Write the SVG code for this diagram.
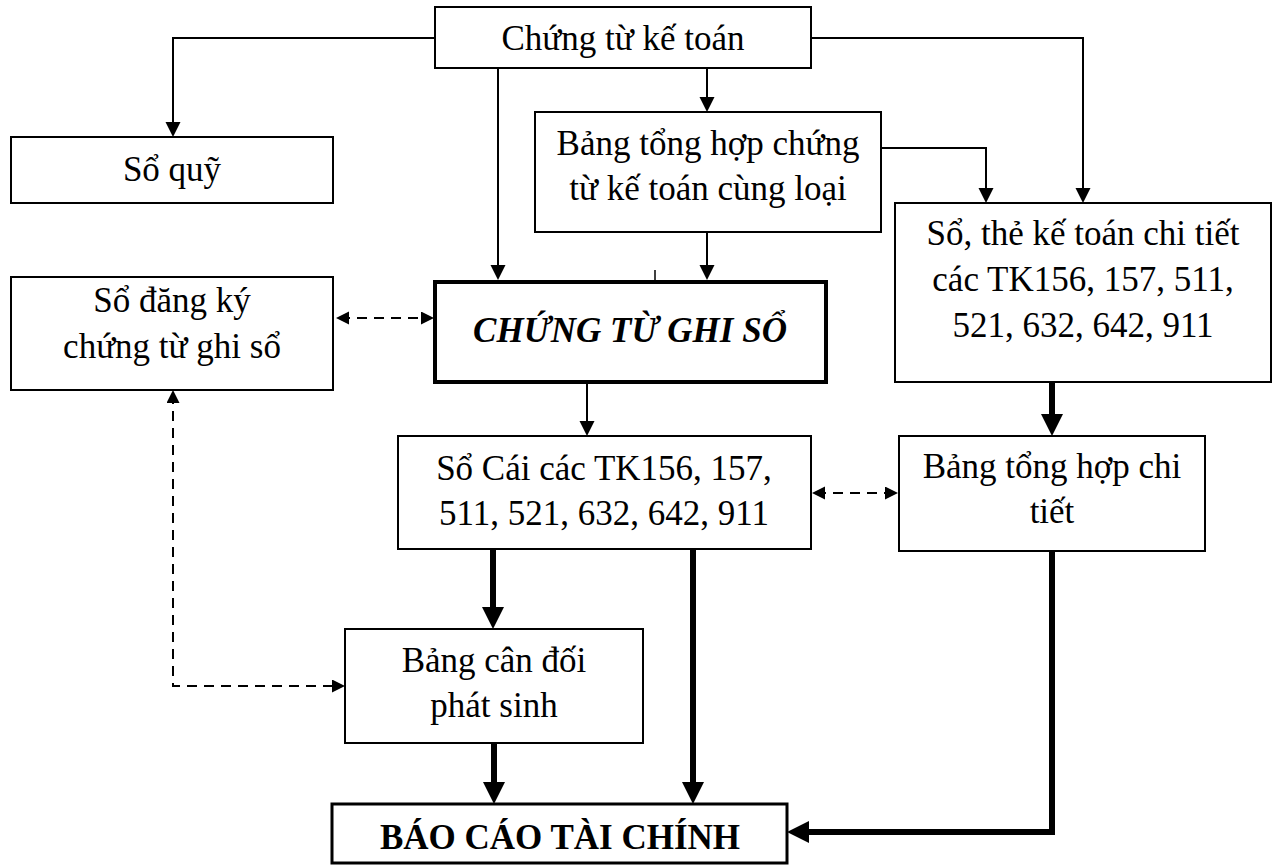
<svg xmlns="http://www.w3.org/2000/svg" width="1280" height="865" viewBox="0 0 1280 865">
<style>
  .box{fill:#fff;stroke:#000;stroke-width:2}
  .b4{stroke-width:4}
  .b3{stroke-width:3}
  text{font-family:"Liberation Serif","Times New Roman",serif;font-size:35px;fill:#000;text-anchor:middle}
  .bi{font-weight:bold;font-style:italic}
  .b{font-weight:bold}
  .thin{fill:none;stroke:#000;stroke-width:2}
  .thick{fill:none;stroke:#000;stroke-width:6}
  .dash{fill:none;stroke:#000;stroke-width:2;stroke-dasharray:10,7}
</style>
<defs>
  <marker id="a" markerUnits="userSpaceOnUse" markerWidth="16" markerHeight="16" refX="11" refY="7.5" orient="auto">
    <path d="M0,0 L15,7.5 L0,15 z" fill="#000"/>
  </marker>
  <marker id="t" markerUnits="userSpaceOnUse" markerWidth="24" markerHeight="24" refX="14" refY="11" orient="auto">
    <path d="M0,0 L22,11 L0,22 z" fill="#000"/>
  </marker>
  <marker id="d" markerUnits="userSpaceOnUse" markerWidth="14" markerHeight="14" refX="9" refY="6.5" orient="auto-start-reverse">
    <path d="M0,0 L13,6.5 L0,13 z" fill="#000"/>
  </marker>
</defs>

<g id="connectors">
  <path class="thin" d="M435,38 H173 V133" marker-end="url(#a)"/>
  <path class="thin" d="M498,68 V276" marker-end="url(#a)"/>
  <path class="thin" d="M707,68 V108" marker-end="url(#a)"/>
  <path class="thin" d="M707,232 V276" marker-end="url(#a)"/>
  <path class="thin" d="M811,38 H1083 V199" marker-end="url(#a)"/>
  <path class="thin" d="M881,148 H986 V199" marker-end="url(#a)"/>
  <path class="thin" d="M587,382 V432" marker-end="url(#a)"/>
  <path class="thin" d="M655,270 V281" style="stroke-width:1.5"/>
  <path class="thick" d="M1052,382 V428" marker-end="url(#t)"/>
  <path class="thick" d="M493,549 V621" marker-end="url(#t)"/>
  <path class="thick" d="M693,549 V796" marker-end="url(#t)"/>
  <path class="thick" d="M494,743 V796" marker-end="url(#t)"/>
  <path class="thick" d="M1052,551 V832 H795" marker-end="url(#t)"/>
  <path class="dash" d="M340,318 H430" marker-start="url(#d)" marker-end="url(#d)"/>
  <path class="dash" d="M816,493 H894" marker-start="url(#d)" marker-end="url(#d)"/>
  <path class="dash" d="M173,394 V686 H341" marker-start="url(#d)" marker-end="url(#d)"/>
</g>

<g id="chung-tu-ke-toan">
  <rect class="box" x="435" y="7" width="376" height="61"/>
  <text x="623" y="50">Chứng từ kế toán</text>
</g>
<g id="so-quy">
  <rect class="box" x="11" y="137" width="322" height="66"/>
  <text x="172" y="181">Sổ quỹ</text>
</g>
<g id="bang-tong-hop-chung-tu">
  <rect class="box" x="535" y="112" width="346" height="120"/>
  <text x="708" y="155">Bảng tổng hợp chứng</text>
  <text x="708" y="200">từ kế toán cùng loại</text>
</g>
<g id="so-the-chi-tiet">
  <rect class="box" x="895" y="203" width="376" height="179"/>
  <text x="1083" y="245">Sổ, thẻ kế toán chi tiết</text>
  <text x="1083" y="291">các TK156, 157, 511,</text>
  <text x="1083" y="337">521, 632, 642, 911</text>
</g>
<g id="so-dang-ky">
  <rect class="box" x="11" y="277" width="322" height="113"/>
  <text x="172" y="312">Sổ đăng ký</text>
  <text x="172" y="358">chứng từ ghi sổ</text>
</g>
<g id="chung-tu-ghi-so">
  <rect class="box b4" x="435" y="282" width="391" height="100"/>
  <text class="bi" x="630" y="342">CHỨNG TỪ GHI SỔ</text>
</g>
<g id="so-cai">
  <rect class="box" x="398" y="436" width="413" height="113"/>
  <text x="604" y="480">Sổ Cái các TK156, 157,</text>
  <text x="604" y="525">511, 521, 632, 642, 911</text>
</g>
<g id="bang-tong-hop-chi-tiet">
  <rect class="box" x="899" y="436" width="306" height="115"/>
  <text x="1052" y="478">Bảng tổng hợp chi</text>
  <text x="1052" y="523">tiết</text>
</g>
<g id="bang-can-doi">
  <rect class="box" x="345" y="629" width="298" height="114"/>
  <text x="494" y="672">Bảng cân đối</text>
  <text x="494" y="717">phát sinh</text>
</g>
<g id="bao-cao-tai-chinh">
  <rect class="box b3" x="332" y="804" width="455" height="59"/>
  <text class="b" x="560" y="849">BÁO CÁO TÀI CHÍNH</text>
</g>
</svg>
